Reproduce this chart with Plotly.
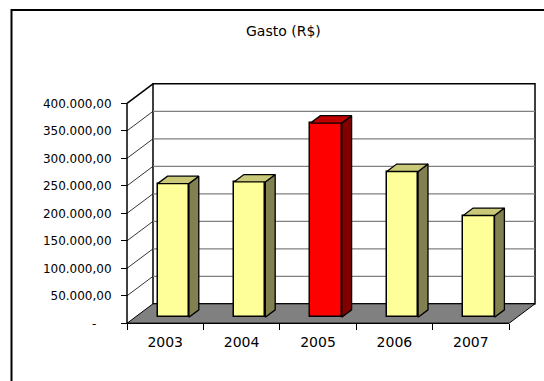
import plotly.graph_objects as go

# ---- data ----
years = ["2003", "2004", "2005", "2006", "2007"]
gasto = [243000, 246000, 353000, 265000, 185000]
front_colors = ["#FFFF99", "#FFFF99", "#FF0000", "#FFFF99", "#FFFF99"]
side_colors = ["#808050", "#808050", "#800000", "#808050", "#808050"]
top_colors = ["#C8C878", "#C8C878", "#C00000", "#C8C878", "#C8C878"]
y_ticks = [0, 50000, 100000, 150000, 200000, 250000, 300000, 350000, 400000]
title_text = "Gasto (R$)"


def fmt_br(v):
    if v == 0:
        return "-" + "\u00a0" * 4
    s = f"{v:,.2f}"
    return s.replace(",", "X").replace(".", ",").replace("X", ".")


y_ticktext = [fmt_br(v) for v in y_ticks]

# ---- geometry (pixel scale of the oblique projection) ----
W, H = 544, 381
PX_PER_CAT = 76.4
PX_PER_VAL = 27.5 / 50000.0
AXIS_X_PX = 127.0
AXIS_Y_PX = 323.3
DEPTH_X_PX, DEPTH_Y_PX = 26.0, 19.5

DX = DEPTH_X_PX / PX_PER_CAT
DY = DEPTH_Y_PX / PX_PER_VAL
xmin = -0.5 - AXIS_X_PX / PX_PER_CAT
xmax = xmin + W / PX_PER_CAT
ymin = -(H - AXIS_Y_PX) / PX_PER_VAL
ymax = ymin + H / PX_PER_VAL

n = len(years)
x_left, x_right = -0.5, n - 0.5
vmax = y_ticks[-1]
bar_w = 0.41
d0, d1 = 0.31, 0.69

fig = go.Figure()
shapes = []

# back wall
shapes.append(dict(type="rect", xref="x", yref="y", layer="below",
                   x0=x_left + DX, x1=x_right + DX, y0=DY, y1=vmax + DY,
                   fillcolor="white", line=dict(color="black", width=1.5)))
# back wall gridlines
for v in y_ticks[1:-1]:
    shapes.append(dict(type="line", xref="x", yref="y", layer="below",
                       x0=x_left + DX, x1=x_right + DX, y0=v + DY, y1=v + DY,
                       line=dict(color="#808080", width=1.2)))
# left wall diagonals
for v in y_ticks[1:]:
    shapes.append(dict(type="line", xref="x", yref="y", layer="below",
                       x0=x_left, x1=x_left + DX, y0=v, y1=v + DY,
                       line=dict(color="black", width=1.5 if v == vmax else 0.8)))
# floor
shapes.append(dict(type="path", xref="x", yref="y", layer="below",
                   path=f"M{x_left},0 L{x_right},0 L{x_right + DX},{DY} L{x_left + DX},{DY} Z",
                   fillcolor="#808080", line=dict(color="black", width=1)))
# front axes lines
shapes.append(dict(type="line", xref="x", yref="y", layer="below",
                   x0=x_left, x1=x_left, y0=0, y1=vmax,
                   line=dict(color="black", width=1.5)))
shapes.append(dict(type="line", xref="x", yref="y", layer="below",
                   x0=x_left, x1=x_right, y0=0, y1=0,
                   line=dict(color="black", width=1.2)))
# outer chart border
shapes.append(dict(type="rect", xref="paper", yref="paper",
                   x0=11.5 / W, x1=1.02, y0=-0.02, y1=1 - 10 / H,
                   line=dict(color="black", width=2), fillcolor="rgba(0,0,0,0)"))

# bar front faces
fig.add_trace(go.Bar(
    x=[i + d0 * DX for i in range(n)], y=gasto, base=[d0 * DY] * n,
    width=bar_w, marker=dict(color=front_colors, line=dict(color="black", width=1.5)),
    hoverinfo="skip", showlegend=False))

# side and top faces
for i, v in enumerate(gasto):
    xr0 = i + bar_w / 2 + d0 * DX
    xr1 = i + bar_w / 2 + d1 * DX
    xl0 = i - bar_w / 2 + d0 * DX
    xl1 = i - bar_w / 2 + d1 * DX
    fig.add_trace(go.Scatter(
        x=[xr0, xr1, xr1, xr0, xr0],
        y=[d0 * DY, d1 * DY, v + d1 * DY, v + d0 * DY, d0 * DY],
        fill="toself", fillcolor=side_colors[i], mode="lines",
        line=dict(color="black", width=1.3), hoverinfo="skip", showlegend=False))
    fig.add_trace(go.Scatter(
        x=[xl0, xr0, xr1, xl1, xl0],
        y=[v + d0 * DY, v + d0 * DY, v + d1 * DY, v + d1 * DY, v + d0 * DY],
        fill="toself", fillcolor=top_colors[i], mode="lines",
        line=dict(color="black", width=1.3), hoverinfo="skip", showlegend=False))

font_main = "DejaVu Sans, Arial, sans-serif"

fig.update_layout(
    width=W, height=H,
    margin=dict(l=0, r=0, t=0, b=0, pad=0),
    paper_bgcolor="white", plot_bgcolor="white",
    bargap=0, showlegend=False,
    shapes=shapes,
    font=dict(family=font_main, size=12, color="black"),
    xaxis=dict(range=[xmin, xmax], anchor="free", position=(H - AXIS_Y_PX) / H,
               tickmode="array", tickvals=[x_left + k for k in range(n + 1)],
               ticktext=[""] * (n + 1), ticks="outside", ticklen=6,
               tickcolor="black", tickwidth=1, showgrid=False, zeroline=False,
               showline=False, fixedrange=True),
    xaxis2=dict(range=[xmin, xmax], overlaying="x", anchor="free",
                position=(H - AXIS_Y_PX) / H, side="bottom",
                tickmode="array", tickvals=list(range(n)), ticktext=years,
                ticks="outside", ticklen=6, tickcolor="rgba(0,0,0,0)",
                tickfont=dict(family=font_main, size=14, color="black"),
                showgrid=False, zeroline=False, showline=False, fixedrange=True),
    yaxis=dict(range=[ymin, ymax], anchor="free", position=AXIS_X_PX / W,
               tickmode="array", tickvals=y_ticks, ticktext=y_ticktext,
               ticks="outside", ticklen=6, tickcolor="black", tickwidth=1,
               ticklabelstandoff=7,
               tickfont=dict(family=font_main, size=12, color="black"),
               showgrid=False, zeroline=False, showline=False, fixedrange=True),
    annotations=[dict(text=title_text, xref="paper", yref="paper",
                      x=283 / W, y=1 - 31.5 / H, xanchor="center", yanchor="middle",
                      showarrow=False, font=dict(family=font_main, size=14, color="black"))],
)

# dummy invisible trace to activate xaxis2
fig.add_trace(go.Scatter(x=[0], y=[0], xaxis="x2", mode="markers",
                         marker=dict(opacity=0), hoverinfo="skip", showlegend=False))

fig.write_html("out.html")
